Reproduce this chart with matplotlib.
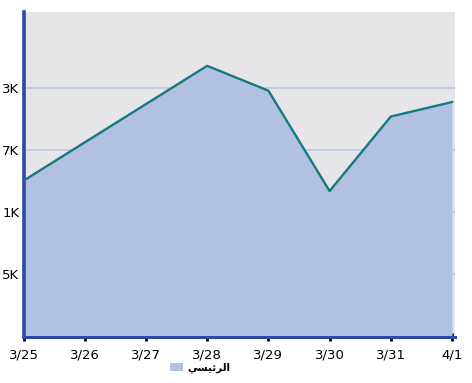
"""Area chart: daily values 3/25 - 4/1, single series"""
import numpy as np
import matplotlib as mpl, matplotlib.pyplot as plt
from matplotlib.patches import Patch

mpl.rcParams.update({"font.family": ["DejaVu Sans"], "font.size": 9.5})

dates = ["3/25", "3/26", "3/27", "3/28", "3/29", "3/30", "3/31", "4/1"]
values = [14.0, 17.7, 21.4, 25.1, 22.7, 13.0, 20.2, 21.6]
yticks = [5, 11, 17, 23]
ytick_labels = ["5K", "1K", "7K", "3K"]   # as shown (leading digits cut off in the original)
# "الرئيسي" in presentation forms, visual order (matplotlib has no Arabic shaping)
series_name = "\uFEF2\uFEB4\uFEF4\uFE8B\uFEAE\uFEDF\uFE8D"

fill_c = "#B2C1E1"
line_c = "#16797F"
spine_c = "#2D48A6"
grid_c = "#BCCAEC"

fig = plt.figure(figsize=(4.72, 3.83), dpi=100)
W, H = 472, 383
ax = fig.add_axes([23.5/W, (H-337)/H, 431.6/W, 325/H])
ax.set_facecolor("#E6E6E8")

x = np.arange(len(dates))
ax.fill_between(x, values, -5, color=fill_c, zorder=2, linewidth=0)
ax.plot(x, values, color=line_c, lw=1.7, zorder=3)

ax.set_xlim(0, 7.05)
ax.set_ylim(-1.1, 30.3)
ax.set_xticks(x)
ax.set_xticklabels(dates)
ax.set_yticks(yticks)
ax.set_yticklabels(ytick_labels)
ax.yaxis.grid(True, color=grid_c, lw=1.3)
ax.set_axisbelow(True)

ax.tick_params(axis="x", direction="inout", length=6, width=2, color="black", pad=5)
ax.tick_params(axis="y", length=0, pad=3)

for s in ["top", "right"]:
    ax.spines[s].set_visible(False)
ax.spines["left"].set_color(spine_c); ax.spines["left"].set_linewidth(2.6)
ax.spines["bottom"].set_color(spine_c); ax.spines["bottom"].set_linewidth(2.2)
ax.spines["bottom"].set_zorder(4)

fig.legend(handles=[Patch(facecolor=fill_c, edgecolor="none", label=series_name)],
           loc="center", bbox_to_anchor=(200/W, (H-368)/H), frameon=False,
           prop={"weight": "bold", "size": 7.5}, handlelength=1.3, handleheight=0.9,
           handletextpad=0.35, borderpad=0)

fig.savefig("out.png", dpi=100)
